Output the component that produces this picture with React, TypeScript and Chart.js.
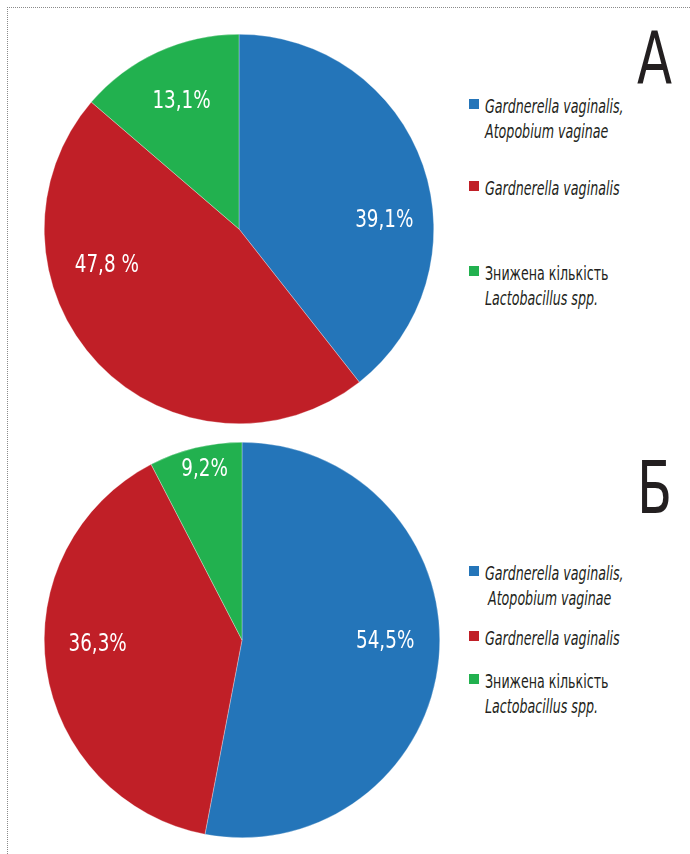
import React, { useEffect, useRef } from "react";
import { Chart, registerables } from "chart.js";

Chart.register(...registerables);

const categories = [
  "Gardnerella vaginalis, Atopobium vaginae",
  "Gardnerella vaginalis",
  "Знижена кількість Lactobacillus spp.",
];
// slice sizes as drawn in the picture
const valuesA = [39.4, 46.9, 13.7];
const valuesB = [53.0, 39.4, 7.6];
// printed labels
const labelsA = ["39,1%", "47,8 %", "13,1%"];
const labelsB = ["54,5%", "36,3%", "9,2%"];
const colors = ["#2475b9", "#c01f27", "#22b14f"];

const NARROW = '"Liberation Sans Narrow", "DejaVu Sans Condensed", "Liberation Sans", sans-serif';

const labelPlugin = {
  id: "sliceLabels",
  afterDatasetsDraw(chart: any) {
    const opts = chart.options.plugins.sliceLabels;
    const meta = chart.getDatasetMeta(0);
    const ctx = chart.ctx;
    meta.data.forEach((arc: any, i: number) => {
      const r = arc.outerRadius;
      const [fx, fy] = opts.offsets[i];
      ctx.save();
      ctx.fillStyle = "#ffffff";
      ctx.font = `24px ${NARROW}`;
      ctx.textAlign = "center";
      ctx.textBaseline = "middle";
      ctx.translate(arc.x + fx * r, arc.y + fy * r);
      ctx.scale(0.85, 1);
      ctx.fillText(opts.texts[i], 0, 0);
      ctx.restore();
    });
  },
};

function Pie({
  values,
  texts,
  offsets,
  size,
  left,
  top,
}: {
  values: number[];
  texts: string[];
  offsets: number[][];
  size: number;
  left: number;
  top: number;
}) {
  const ref = useRef<HTMLCanvasElement>(null);
  useEffect(() => {
    const chart = new Chart(ref.current!, {
      type: "pie",
      data: {
        labels: categories,
        datasets: [
          {
            data: values,
            backgroundColor: colors,
            borderColor: "rgba(255,255,255,0.6)",
            borderWidth: 0.5,
          },
        ],
      },
      options: {
        responsive: false,
        animation: false,
        layout: { padding: 0 },
        plugins: {
          legend: { display: false },
          tooltip: { enabled: false },
          sliceLabels: { texts, offsets },
        } as any,
      },
      plugins: [labelPlugin],
    });
    return () => chart.destroy();
  }, []);
  return (
    <canvas
      ref={ref}
      width={size}
      height={size}
      style={{ position: "absolute", left, top, width: size, height: size }}
    />
  );
}

type LegendLine = { text: string; italic: boolean; indent?: number };

function LegendItem({ color, lines, top }: { color: string; lines: LegendLine[]; top: number }) {
  return (
    <div style={{ position: "absolute", left: 469, top }}>
      <div
        style={{
          position: "absolute",
          left: 0,
          top: 5,
          width: 10,
          height: 10,
          background: color,
        }}
      />
      {lines.map((l, i) => (
        <div
          key={i}
          style={{
            position: "absolute",
            left: 16 + (l.indent || 0),
            top: i * 25,
            whiteSpace: "nowrap",
            fontFamily: NARROW,
            fontSize: 19,
            lineHeight: "25px",
            fontStyle: l.italic ? "italic" : "normal",
            color: "#231f20",
            transform: "scaleX(0.74)",
            transformOrigin: "left center",
          }}
        >
          {l.text}
        </div>
      ))}
    </div>
  );
}

const legendLines: LegendLine[][] = [
  [
    { text: "Gardnerella vaginalis,", italic: true },
    { text: "Atopobium vaginae", italic: true },
  ],
  [{ text: "Gardnerella vaginalis", italic: true }],
  [
    { text: "Знижена кількість", italic: false },
    { text: "Lactobacillus spp.", italic: true },
  ],
];

const bigLetter = (top: number): React.CSSProperties => ({
  position: "absolute",
  left: 637,
  top,
  fontFamily: NARROW,
  fontSize: 73,
  lineHeight: "90px",
  color: "#231f20",
  transform: "scaleX(0.78)",
  transformOrigin: "left center",
});

export default function App() {
  return (
    <div
      style={{
        position: "absolute",
        left: 0,
        top: 0,
        width: 690,
        height: 854,
        background: "#ffffff",
        overflow: "hidden",
      }}
    >
      <div
        style={{
          position: "absolute",
          left: 7,
          top: 7,
          width: 700,
          height: 900,
          borderTop: "1px dotted #8a8a8a",
          borderLeft: "1px dotted #8a8a8a",
        }}
      />
      <Pie
        values={valuesA}
        texts={labelsA}
        offsets={[
          [0.746, -0.04],
          [-0.679, 0.187],
          [-0.295, -0.653],
        ]}
        size={390}
        left={44}
        top={34}
      />
      <Pie
        values={valuesB}
        texts={labelsB}
        offsets={[
          [0.724, 0.01],
          [-0.73, 0.026],
          [-0.189, -0.862],
        ]}
        size={396}
        left={44}
        top={442}
      />
      <div style={bigLetter(14)}>А</div>
      <div style={bigLetter(443)}>Б</div>
      {[94, 176, 261].map((t, i) => (
        <LegendItem key={"a" + i} color={colors[i]} lines={legendLines[i]} top={t} />
      ))}
      {[561, 626, 669].map((t, i) => (
        <LegendItem
          key={"b" + i}
          color={colors[i]}
          lines={legendLines[i].map((l, j) => (i === 0 && j === 1 ? { ...l, indent: 3 } : l))}
          top={t}
        />
      ))}
    </div>
  );
}
